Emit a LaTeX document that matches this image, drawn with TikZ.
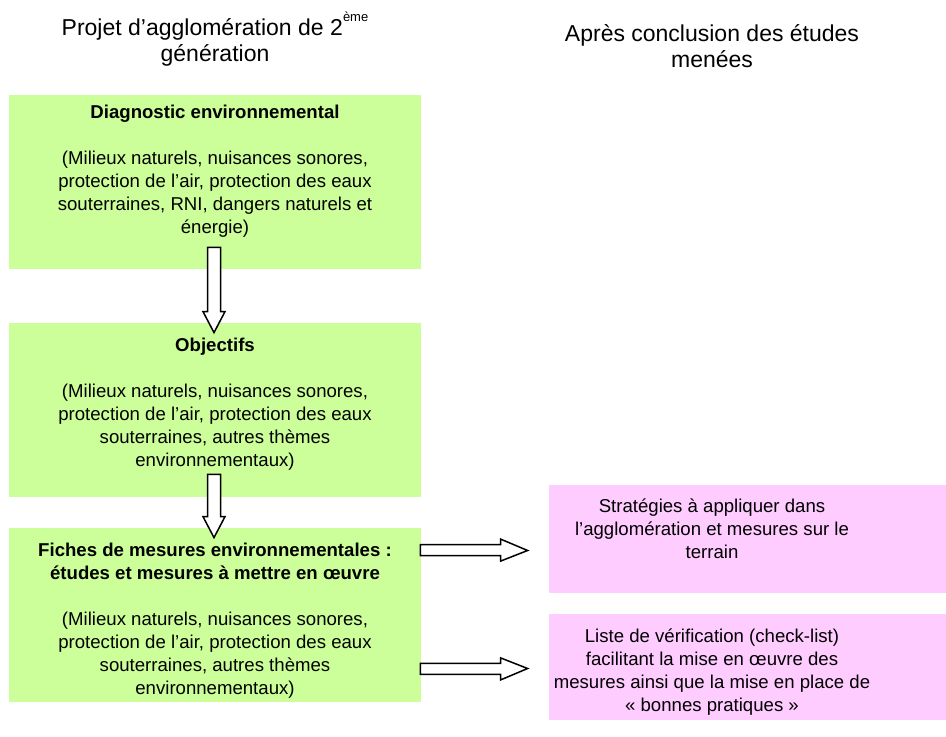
\documentclass[tikz,border=0pt]{standalone}
\usepackage{fontspec}
\setmainfont{Liberation Sans}
\usetikzlibrary{calc}
\definecolor{boxgreen}{HTML}{CCFF99}
\definecolor{boxpink}{HTML}{FFCCFF}
% hollow block arrows between two points
\newcommand{\downblock}[2]{%
  \draw[blockarrow] let \p1=(#1), \p2=(#2) in
    (\x1-3.25pt,\y1) -- (\x1+3.25pt,\y1) -- (\x1+3.25pt,\y2+10.5pt) -- (\x1+5.5pt,\y2+10.5pt)
    -- (\x2,\y2) -- (\x1-5.5pt,\y2+10.5pt) -- (\x1-3.25pt,\y2+10.5pt) -- cycle;}
\newcommand{\rightblock}[2]{%
  \draw[blockarrow] let \p1=(#1), \p2=(#2) in
    (\x1,\y1+2.75pt) -- (\x2-13.5pt,\y1+2.75pt) -- (\x2-13.5pt,\y1+5.5pt) -- (\x2,\y2)
    -- (\x2-13.5pt,\y1-5.5pt) -- (\x2-13.5pt,\y1-2.75pt) -- (\x1,\y1-2.75pt) -- cycle;}
\begin{document}
\begin{tikzpicture}[x=0.5pt,y=-0.5pt,
  greenbox/.style={fill=boxgreen,minimum width=206pt,minimum height=87pt,inner sep=0pt},
  pinkbox/.style={fill=boxpink,minimum width=198.5pt,inner sep=0pt},
  boxtext/.style={align=center,inner sep=0pt,anchor=north,font=\fontsize{9.3}{11.5}\selectfont},
  headtext/.style={align=center,inner sep=0pt,anchor=north,font=\fontsize{11.5}{13}\selectfont},
  blockarrow/.style={draw=black,fill=white,line width=0.75pt,line join=miter}]
  \useasboundingbox (0,0) rectangle (946,737);
  % headings
  \node[headtext] (headleft) at (215,12) {Projet d’agglomération de 2\raisebox{0.6em}{\fontsize{6.5}{7}\selectfont ème}\\génération};
  \node[headtext] (headright) at (712,24) {Après conclusion des études\\menées};
  % boxes
  \node[greenbox] (diag) at (215,182) {};
  \node[greenbox] (obj) at (215,410) {};
  \node[greenbox] (fiches) at (215,615) {};
  \node[pinkbox,minimum height=54pt] (strat) at (747.5,539) {};
  \node[pinkbox,minimum height=53pt] (check) at (747.5,667) {};
  % arrows
  \coordinate (a1s) at ($(diag.south)+(-1,-22)$);
  \coordinate (a1e) at ($(obj.north)+(-1,10)$);
  \coordinate (a2s) at ($(obj.south)+(-1,-23)$);
  \coordinate (a2e) at ($(fiches.north)+(-1,10)$);
  \coordinate (a3s) at ($(fiches.north east)+(-1,22.5)$);
  \coordinate (a3e) at ($(strat.west)+(-21,11.5)$);
  \coordinate (a4s) at ($(fiches.south east)+(-1,-33.5)$);
  \coordinate (a4e) at ($(check.west)+(-21,1.5)$);
  \downblock{a1s}{a1e}
  \downblock{a2s}{a2e}
  \rightblock{a3s}{a3e}
  \rightblock{a4s}{a4e}
  % texts
  \node[boxtext] (diagtext) at (215,105) {\textbf{Diagnostic environnemental}\\[11.5pt]
    (Milieux naturels, nuisances sonores,\\protection de l’air, protection des eaux\\
    souterraines, RNI, dangers naturels et\\énergie)};
  \node[boxtext] (objtext) at (215,338) {\textbf{Objectifs}\\[11.5pt]
    (Milieux naturels, nuisances sonores,\\protection de l’air, protection des eaux\\
    souterraines, autres thèmes\\environnementaux)};
  \node[boxtext] (fichestext) at (215,543) {\textbf{Fiches de mesures environnementales :}\\
    \textbf{études et mesures à mettre en œuvre}\\[11.5pt]
    (Milieux naturels, nuisances sonores,\\protection de l’air, protection des eaux\\
    souterraines, autres thèmes\\environnementaux)};
  \node[boxtext] (strattext) at (712,498) {Stratégies à appliquer dans\\
    l’agglomération et mesures sur le\\terrain};
  \node[boxtext] (checktext) at (712,628) {Liste de vérification (check-list)\\
    facilitant la mise en œuvre des\\mesures ainsi que la mise en place de\\«~bonnes pratiques~»};
\end{tikzpicture}
\end{document}
